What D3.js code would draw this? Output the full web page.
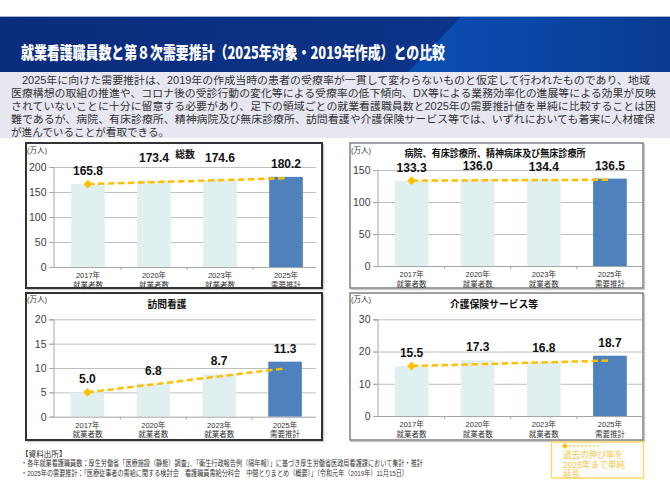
<!DOCTYPE html>
<html><head><meta charset="utf-8">
<script src="https://cdn.jsdelivr.net/npm/d3@7"></script>
<style>
html,body{margin:0;padding:0;background:#fff;}
svg{display:block;}
</style></head>
<body>
<svg id="chart" width="670" height="500"></svg>
<script>
// ---------------- DATA ----------------
const categoryYears = ["2017年", "2020年", "2023年", "2025年"];
const categoryKinds = ["就業者数", "就業者数", "就業者数", "需要推計"];
const panelTitles = ["総数", "病院、有床診療所、精神病床及び無床診療所", "訪問看護", "介護保険サービス等"];
const totalValues = [165.8, 173.4, 174.6, 180.2];
const hospitalValues = [133.3, 136.0, 134.4, 136.5];
const homeVisitValues = [5.0, 6.8, 8.7, 11.3];
const careValues = [15.5, 17.3, 16.8, 18.7];
// end point (2025) of the dashed "past growth rate extended" line
const trendEnds = [177.5, 134.8, 9.9, 17.2];
const totalTicks = [0, 50, 100, 150, 200];
const hospitalTicks = [0, 50, 100, 150];
const homeVisitTicks = [0, 5, 10, 15, 20];
const careTicks = [0, 10, 20, 30];
const unitLabel = "(万人)";
const titleText = "就業看護職員数と第８次需要推計（2025年対象・2019年作成）との比較";
const paragraphLines = [
  "　2025年に向けた需要推計は、2019年の作成当時の患者の受療率が一貫して変わらないものと仮定して行われたものであり、地域",
  "医療構想の取組の推進や、コロナ後の受診行動の変化等による受療率の低下傾向、DX等による業務効率化の進展等による効果が反映",
  "されていないことに十分に留意する必要があり、足下の領域ごとの就業看護職員数と2025年の需要推計値を単純に比較することは困",
  "難であるが、病院、有床診療所、精神病院及び無床診療所、訪問看護や介護保険サービス等では、いずれにおいても着実に人材確保",
  "が進んでいることが看取できる。"
];
const sourceLines = [
  "【資料出所】",
  "・各年就業看護職員数：厚生労働省「医療施設（静態）調査」、「衛生行政報告例（隔年報）」に基づき厚生労働省医政局看護課において集計・推計",
  "・2025年の需要推計：「医療従事者の需給に関する検討会　看護職員需給分科会　中間とりまとめ（概要）」（令和元年（2019年）11月15日）"
];
const legendLines = ["過去の伸び率を", "2025年まで単純", "延長"];

// ---------------- LAYOUT / STYLE ----------------
const CJK = "'Noto Sans CJK JP','Noto Sans',sans-serif";
const MIX = "'Liberation Sans','Noto Sans CJK JP',sans-serif";
const NUM = "'Liberation Sans',Arial,sans-serif";
const lightBar = "#e0f0f0", forecastBar = "#4f81bd", gold = "#ffc000";

const panels = [
  {values: totalValues, ticks: totalTicks, trendEnd: trendEnds[0], title: panelTitles[0],
   box: [26, 143, 296, 145], border: "#333", bw: 2,
   x0: 55, x1: 319, gridL: 49, gridR: 316, yTop: 167, yBot: 267,
   tickX: 46, titleX: 185, titleY: 154, unitX: 27, unitY: 150, raise: [0, 9, 9, 0]},
  {values: hospitalValues, ticks: hospitalTicks, trendEnd: trendEnds[1], title: panelTitles[1], titleLen: 181,
   box: [350, 143, 293, 145], border: "#808080", bw: 1.5,
   x0: 378.5, x1: 643, gridL: 373, gridR: 642, yTop: 170, yBot: 266,
   tickX: 369, titleX: 495, titleY: 153, unitX: 351, unitY: 150, raise: [0, 0, 0, 0]},
  {values: homeVisitValues, ticks: homeVisitTicks, trendEnd: trendEnds[2], title: panelTitles[2],
   box: [26, 293, 296, 147], border: "#333", bw: 2,
   x0: 54.5, x1: 318, gridL: 49, gridR: 316, yTop: 319.3, yBot: 416.7,
   tickX: 46, titleX: 167, titleY: 304, unitX: 27, unitY: 299, raise: [0, 0, 0, 0]},
  {values: careValues, ticks: careTicks, trendEnd: trendEnds[3], title: panelTitles[3],
   box: [350, 293, 293, 147], border: "#808080", bw: 1.5,
   x0: 378.5, x1: 643, gridL: 373, gridR: 642, yTop: 319.3, yBot: 416,
   tickX: 369, titleX: 494, titleY: 304, unitX: 351, unitY: 299, raise: [0, 0, 1, 0]}
];

const svg = d3.select("#chart");
const defs = svg.append("defs");

// ---------------- HEADER ----------------
const hg = defs.append("linearGradient").attr("id", "hdr").attr("x1", "0").attr("x2", "1").attr("y1", "0").attr("y2", "0");
hg.append("stop").attr("offset", "0").attr("stop-color", "#0b2c7c");
hg.append("stop").attr("offset", "0.55").attr("stop-color", "#0c3286");
hg.append("stop").attr("offset", "1").attr("stop-color", "#0a3a92");
const hg2 = defs.append("linearGradient").attr("id", "hdr2").attr("x1", "0").attr("x2", "1").attr("y1", "0").attr("y2", "0");
hg2.append("stop").attr("offset", "0").attr("stop-color", "#0b4fb2");
hg2.append("stop").attr("offset", "0.5").attr("stop-color", "#0a46a6");
hg2.append("stop").attr("offset", "1").attr("stop-color", "#0a3a8e");

svg.append("rect").attr("x", 0).attr("y", 16).attr("width", 670).attr("height", 56).attr("fill", "url(#hdr)");
svg.append("path").attr("d", "M408,72 L462,16 L670,16 L670,72 Z").attr("fill", "url(#hdr2)");
svg.append("line").attr("x1", 0).attr("x2", 670).attr("y1", 16.5).attr("y2", 16.5).attr("stroke", "#9fb3d6").attr("stroke-width", 1);
svg.append("text").attr("x", 21).attr("y", 59).attr("fill", "#fff")
  .attr("font-family", CJK).attr("font-weight", "900").attr("font-size", 16.5)
  .attr("textLength", 424).attr("lengthAdjust", "spacingAndGlyphs").text(titleText);

// ---------------- PARAGRAPH ----------------
svg.append("rect").attr("x", 0).attr("y", 72).attr("width", 670).attr("height", 66).attr("fill", "#e7e7f1");
const paraLens = [639, 645, 645, 644, null];
paragraphLines.forEach((t, i) => {
  const tx = svg.append("text").attr("x", 11).attr("y", 83.5 + i * 13)
    .attr("fill", "#333").attr("font-family", MIX).attr("font-size", 10.6).text(t);
  if (paraLens[i]) tx.attr("textLength", paraLens[i]).attr("lengthAdjust", "spacingAndGlyphs");
});

// ---------------- PANELS ----------------
panels.forEach(p => {
  const g = svg.append("g");
  // shadow + box
  g.append("rect").attr("x", p.box[0] + 1.5).attr("y", p.box[1] + 1.5).attr("width", p.box[2]).attr("height", p.box[3])
    .attr("fill", "none").attr("stroke", "#ccc").attr("stroke-width", 1.5);
  g.append("rect").attr("x", p.box[0]).attr("y", p.box[1]).attr("width", p.box[2]).attr("height", p.box[3])
    .attr("fill", "#fff").attr("stroke", p.border).attr("stroke-width", p.bw);

  const yMax = p.ticks[p.ticks.length - 1];
  const y = d3.scaleLinear().domain([0, yMax]).range([p.yBot, p.yTop]);
  const x = d3.scaleBand().domain(categoryYears).range([p.x0, p.x1]).paddingInner(0.49).paddingOuter(0.245);

  // gridlines
  g.append("g").selectAll("line").data(p.ticks.filter(t => t > 0)).join("line")
    .attr("x1", p.gridL).attr("x2", p.gridR).attr("y1", d => y(d) + 0.5).attr("y2", d => y(d) + 0.5)
    .attr("stroke", "#bfbfbf").attr("stroke-width", 1);

  // y axis
  const yAxis = d3.axisLeft(y).tickValues(p.ticks).tickSize(4).tickPadding(3);
  const ya = g.append("g").attr("transform", `translate(${p.gridL + 4 + 0.5},0)`).call(yAxis);
  ya.select(".domain").attr("stroke", "#a6a6a6");
  ya.selectAll(".tick line").attr("stroke", "#a6a6a6");
  ya.selectAll(".tick text").attr("font-family", NUM).attr("font-size", 10.5).attr("fill", "#404040");

  // bars
  g.append("g").selectAll("rect").data(p.values).join("rect")
    .attr("x", (d, i) => x(categoryYears[i])).attr("width", x.bandwidth())
    .attr("y", d => y(d)).attr("height", d => p.yBot - y(d))
    .attr("fill", (d, i) => i === p.values.length - 1 ? forecastBar : lightBar);

  // x axis
  const xa = g.append("g").attr("transform", `translate(0,${p.yBot + 0.5})`)
    .call(d3.axisBottom(x).tickSize(0).tickFormat(""));
  xa.select(".domain").attr("stroke", "#a6a6a6").attr("d", `M${p.gridL + 4},0H${p.gridR}`);
  const seps = categoryYears.slice(1).map(c => x(c) - (x.step() - x.bandwidth()) / 2);
  g.append("g").selectAll("line").data(seps).join("line")
    .attr("x1", d => d).attr("x2", d => d).attr("y1", p.yBot).attr("y2", p.yBot + 3)
    .attr("stroke", "#a6a6a6");

  // category labels
  const cl = g.append("g").selectAll("text").data(categoryYears).join("text")
    .attr("x", c => x(c) + x.bandwidth() / 2).attr("text-anchor", "middle")
    .attr("font-family", MIX).attr("font-size", 7.5).attr("fill", "#333");
  cl.append("tspan").attr("x", c => x(c) + x.bandwidth() / 2).attr("y", p.yBot + 11).text(c => c);
  cl.append("tspan").attr("x", c => x(c) + x.bandwidth() / 2).attr("y", p.yBot + 20.5).text((c, i) => categoryKinds[i]);

  // trend line
  const cx = i => x(categoryYears[i]) + x.bandwidth() / 2;
  const last = categoryYears.length - 1;
  g.append("line").attr("x1", cx(0)).attr("y1", y(p.values[0])).attr("x2", cx(last) - 1).attr("y2", y(p.trendEnd))
    .attr("stroke", gold).attr("stroke-width", 2.5).attr("stroke-dasharray", "6.5,3.5");
  g.append("path").attr("d", d3.symbol(d3.symbolDiamond2, 50)())
    .attr("transform", `translate(${cx(0)},${y(p.values[0])})`).attr("fill", gold);

  // value labels
  g.append("g").selectAll("text").data(p.values).join("text")
    .attr("x", (d, i) => cx(i)).attr("y", (d, i) => y(d) - 9 - p.raise[i])
    .attr("text-anchor", "middle").attr("font-family", NUM).attr("font-weight", "bold")
    .attr("font-size", 12).attr("fill", "#111").text(d => d.toFixed(1));

  // title + unit
  const tt = g.append("text").attr("x", p.titleX).attr("y", p.titleY + 3.5).attr("text-anchor", "middle")
    .attr("font-family", MIX).attr("font-weight", "bold").attr("font-size", 9.8).attr("fill", "#111").text(p.title);
  if (p.titleLen) tt.attr("textLength", p.titleLen).attr("lengthAdjust", "spacingAndGlyphs");
  g.append("text").attr("x", p.unitX).attr("y", p.unitY + 3).attr("font-family", MIX).attr("font-size", 7.5)
    .attr("fill", "#333").text(unitLabel);
});

// ---------------- SOURCE NOTES ----------------
const srcLens = [null, 402, 387];
sourceLines.forEach((t, i) => {
  const tx = svg.append("text").attr("x", 21).attr("y", 457 + i * 9.4).attr("font-family", MIX)
    .attr("font-size", 7.6).attr("fill", "#333").text(t);
  if (srcLens[i]) tx.attr("textLength", srcLens[i]).attr("lengthAdjust", "spacingAndGlyphs");
});

// ---------------- LEGEND ----------------
svg.append("rect").attr("x", 551.5).attr("y", 442).attr("width", 92).attr("height", 36)
  .attr("fill", "#fff").attr("stroke", "#ffd966").attr("stroke-width", 1.5);
svg.append("line").attr("x1", 569).attr("x2", 601).attr("y1", 446).attr("y2", 446)
  .attr("stroke", gold).attr("stroke-width", 1.5).attr("stroke-dasharray", "1.5,2.5");
svg.append("path").attr("d", d3.symbol(d3.symbolDiamond2, 22)()).attr("transform", "translate(565,446)").attr("fill", gold);
legendLines.forEach((t, i) => {
  svg.append("text").attr("x", 563).attr("y", 458 + i * 9.6).attr("font-family", MIX).attr("font-size", 8.6)
    .attr("fill", "#f2c744").text(t);
});
</script>
</body></html>
